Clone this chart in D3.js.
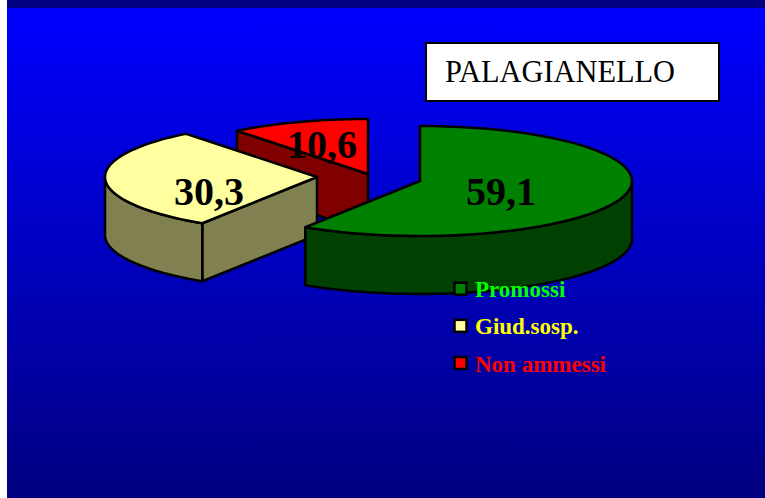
<!DOCTYPE html>
<meta charset="utf-8">
<style>
body { margin: 0; background: #fff; }
svg { display: block; }
text { font-family: "Liberation Serif", serif; }
</style>
<body>
  <div id="box1"></div>
</body>
<script src="https://d3js.org/d3.v7.min.js"></script>
<script>

// values
var categories = ["Promossi", "Giud.sosp.", "Non ammessi"];
var values = [59.1, 30.3, 10.6];
var labels = ["59,1", "30,3", "10,6"];
var title = "PALAGIANELLO";

var topColors = ["#008000", "#ffffa0", "#ff0000"];
var wallColors = ["#004000", "#808050", "#800000"];
var textColors = ["#00ff00", "#ffff00", "#ff0000"];

var width = 765, height = 498;
var rx = 212, ry = 55, depth = 58;

// each slice is pulled away from the middle by its own amount
var centers = [{x: 420, y: 181}, {x: 317, y: 177}, {x: 368, y: 174}];
var labelPos = [{x: 501, y: 205}, {x: 209, y: 205}, {x: 322, y: 158}];

var svg = d3.select("#box1").append("svg")
    .attr("width", width)
    .attr("height", height);

var grad = svg.append("defs").append("linearGradient")
    .attr("id", "bg")
    .attr("x1", 0).attr("y1", 0).attr("x2", 0).attr("y2", 1);
grad.append("stop").attr("offset", "0%").attr("stop-color", "#0000ff");
grad.append("stop").attr("offset", "100%").attr("stop-color", "#000080");

svg.append("rect")
    .attr("x", 7).attr("y", 0)
    .attr("width", width - 7).attr("height", 8)
    .style("fill", "#000080");
svg.append("rect")
    .attr("x", 7).attr("y", 8)
    .attr("width", width - 7).attr("height", height - 8)
    .style("fill", "url(#bg)");

// pie angles start at the top and go clockwise
var pie = d3.pie().sort(null);
var slices = pie(values);

function point(c, a, dy) {
  return [c.x + rx * Math.sin(a), c.y - ry * Math.cos(a) + (dy || 0)];
}

function arcPoints(c, a0, a1, dy) {
  return d3.range(0, 61).map(function(i) {
    return point(c, a0 + (a1 - a0) * i / 60, dy);
  });
}

var line = d3.line();

// red at the back, then yellow, green in front
var order = [2, 1, 0];

order.forEach(function(i) {
  var s = slices[i], c = centers[i];
  var a0 = s.startAngle, a1 = s.endAngle;
  var apex = [c.x, c.y];
  var g = svg.append("g")
      .style("stroke", "#000")
      .style("stroke-width", 2.5)
      .style("stroke-linejoin", "round");

  // cut wall that faces us
  var p = point(c, a0);
  g.append("path")
      .attr("d", line([apex, p, [p[0], p[1] + depth], [c.x, c.y + depth]]) + "Z")
      .style("fill", wallColors[i]);

  // outer wall, only the part that faces us (between 90 and 270 degrees)
  var w0 = Math.max(a0, Math.PI / 2), w1 = Math.min(a1, Math.PI * 1.5);
  if (w1 > w0) {
    var top = arcPoints(c, w0, w1, 0);
    var bottom = arcPoints(c, w1, w0, depth);
    g.append("path")
        .attr("d", line(top.concat(bottom)) + "Z")
        .style("fill", wallColors[i]);
  }

  // top face
  var pts = [apex].concat(arcPoints(c, a0, a1, 0));
  g.append("path")
      .attr("d", line(pts) + "Z")
      .style("fill", topColors[i]);
});

svg.selectAll("text.val")
    .data(labels)
    .join("text")
    .attr("class", "val")
    .attr("x", function(d, i) { return labelPos[i].x; })
    .attr("y", function(d, i) { return labelPos[i].y; })
    .attr("text-anchor", "middle")
    .style("font-size", "40px")
    .style("font-weight", "bold")
    .style("fill", "#000")
    .text(function(d) { return d; });

// legend
var legendY = d3.scalePoint(categories, [288.7, 363]);

svg.selectAll("rect.key")
    .data(categories)
    .join("rect")
    .attr("class", "key")
    .attr("x", 454.5)
    .attr("y", function(d) { return legendY(d) - 6; })
    .attr("width", 12)
    .attr("height", 12)
    .style("fill", function(d, i) { return topColors[i]; })
    .style("stroke", "#000")
    .style("stroke-width", 2.5);

svg.selectAll("text.key")
    .data(categories)
    .join("text")
    .attr("class", "key")
    .attr("x", 475)
    .attr("y", function(d) { return legendY(d) + 8.5; })
    .style("font-size", "23px")
    .style("font-weight", "bold")
    .style("fill", function(d, i) { return textColors[i]; })
    .text(function(d) { return d; });

// title box
svg.append("rect")
    .attr("x", 426).attr("y", 43)
    .attr("width", 293).attr("height", 58)
    .style("fill", "#fff")
    .style("stroke", "#000")
    .style("stroke-width", 2);

svg.append("text")
    .attr("x", 445).attr("y", 82)
    .attr("textLength", 230)
    .attr("lengthAdjust", "spacingAndGlyphs")
    .style("font-size", "32px")
    .style("fill", "#000")
    .text(title);

</script>
